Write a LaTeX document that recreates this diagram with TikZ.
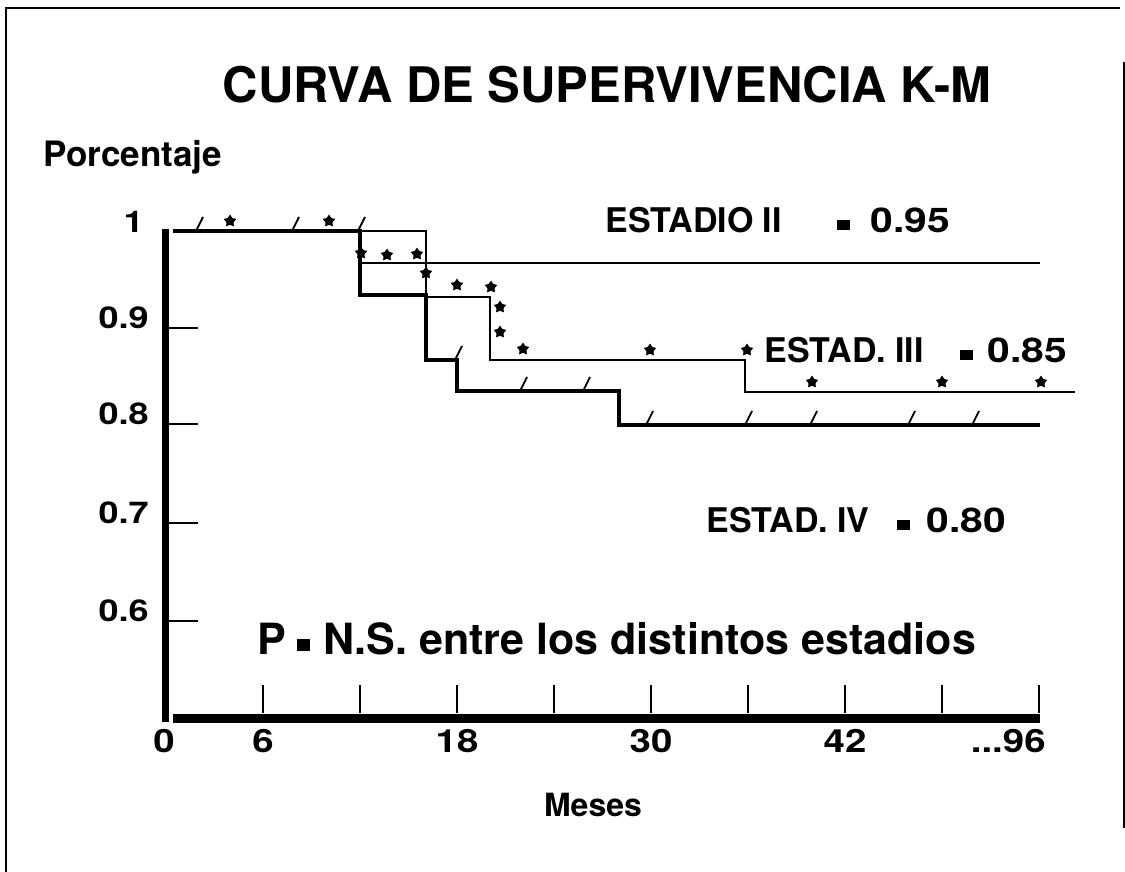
\documentclass[tikz,border=0pt]{standalone}
\usepackage{fontspec}
\setmainfont{TeX Gyre Heros}
\newfontfamily\numfont[FakeStretch=1.2]{TeX Gyre Heros}
\usetikzlibrary{shapes.geometric}
\newcommand{\sq}{\rule[1pt]{6.5pt}{5pt}}

\begin{document}
\begin{tikzpicture}[x=0.5pt, y=-0.5pt,
lbl/.style={inner sep=0pt, font=\bfseries\fontsize{17}{20}\selectfont},
val/.style={inner sep=0pt, font=\numfont\bfseries\fontsize{17}{20}\selectfont},
numy/.style={inner sep=0pt, font=\numfont\bfseries\fontsize{15}{18}\selectfont},
numx/.style={inner sep=0pt, font=\numfont\bfseries\fontsize{16}{19}\selectfont},
kmthick/.style={line width=2pt},
kmthin/.style={line width=0.8pt},
cens/.style={line width=0.9pt},
tick/.style={line width=0.75pt},
st/.style={star, star points=5, star point ratio=1.7, fill, draw=none, inner sep=0pt, minimum size=6.5pt}]

\useasboundingbox (0,0) rectangle (1125,872);

% frame
\draw[line width=1pt] (6,872) -- (6,8) -- (1120,8);
\draw[line width=1pt] (1124,62) -- (1124,828);

% titles
\node[inner sep=0pt, font=\bfseries\fontsize{24.5}{29}\selectfont, anchor=base] (title) at (607,103) {CURVA DE SUPERVIVENCIA K-M};
\node[lbl, font=\bfseries\fontsize{17.5}{20}\selectfont, anchor=base west] (ylab) at (43,167) {Porcentaje};
\node[lbl, font=\bfseries\fontsize{16}{19}\selectfont, anchor=base] (xlab) at (593,816) {Meses};

% axes
\draw[line width=3.5pt] (165,229) -- (165,722);
\draw[line width=4.5pt] (173,718) -- (1040,718);
\foreach \y in {328,424,523,621}
  \draw[tick] (168,\y) -- (198,\y);
\foreach \x in {263,360,...,1040}
  \draw[tick] (\x,685) -- (\x,713);

\node[numy, anchor=base east] (yl0) at (144,232) {1};
\foreach \y/\t [count=\i] in {328/0.9, 424/0.8, 523/0.7, 621/0.6}
  \node[numy, anchor=base east] (yl\i) at (149,\y) {\t};
\foreach \x/\t [count=\i] in {164/0, 263/6, 457/18, 651/30, 845/42}
  \node[numx, anchor=base] (xl\i) at (\x,752) {\t};
\node[numx, anchor=base east] (xl6) at (1046,752) {...96};

% curves
\draw[kmthick] (173,231) -- (360,231) -- (360,295) -- (426,295) -- (426,360) -- (457,360)
  -- (457,391) -- (619,391) -- (619,425) -- (1040,425);
\draw[kmthin] (360,231) -- (426,231) -- (426,263) -- (1040,263);
\draw[kmthin] (360,263) -- (426,263) -- (426,297) -- (490,297) -- (490,360) -- (745,360)
  -- (745,392) -- (1075,392);

% censored
\foreach \x/\y in {196/231, 292/231, 358/231, 455/360, 520/391, 583/391, 646/425, 745/425, 810/425, 908/425, 972/425}
  \draw[cens] (\x,\y) -- ++(7,-14);
\foreach \x/\y [count=\i] in {230/221, 329/221, 361/253, 387/255, 417/254, 426/273, 457/285, 491/287, 500/307, 500/332, 523/349, 650/350, 747/350, 812/382, 942/382, 1041/382}
  \node[st] (s\i) at (\x,\y) {};

% labels
\node[lbl, anchor=base west] (e2) at (605,232) {ESTADIO II};
\node[val, anchor=base west] (e2v) at (837,232) {\sq\hspace{10pt}0.95};
\node[lbl, anchor=base west] (e3) at (764,362) {ESTAD. III};
\node[val, anchor=base west] (e3v) at (960,362) {\sq\hspace{7pt}0.85};
\node[lbl, anchor=base west] (e4) at (706,532) {ESTAD. IV};
\node[val, anchor=base west] (e4v) at (897,532) {\sq\hspace{8pt}0.80};
\node[inner sep=0pt, font=\bfseries\fontsize{21.5}{25}\selectfont, anchor=base west] (pns) at (257,654)
  {P\hspace{5.5pt}\rule[1.5pt]{6.5pt}{6pt}\hspace{6.5pt}N.S. entre los distintos estadios};

\end{tikzpicture}
\end{document}
